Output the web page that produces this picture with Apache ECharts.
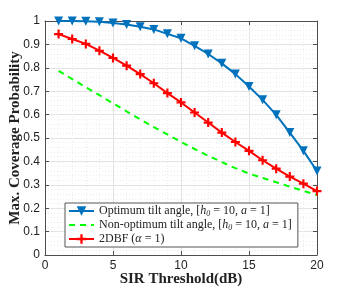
<!DOCTYPE html>
<html><head><meta charset="utf-8">
<script src="https://cdn.jsdelivr.net/npm/echarts@6/dist/echarts.min.js"></script>
<style>html,body{margin:0;padding:0;background:#fff}#c{width:350px;height:288px}</style>
</head><body><div id="c"></div>
<script>
const sirThreshold = [1,2,3,4,5,6,7,8,9,10,11,12,13,14,15,16,17,18,19,20];
const optimumTilt = [1.0,1.0,0.999,0.997,0.991,0.985,0.975,0.964,0.945,0.926,0.894,0.859,0.819,0.773,0.72,0.663,0.599,0.523,0.445,0.359];
const nonOptimumTilt = [0.787,0.752,0.717,0.683,0.648,0.614,0.58,0.547,0.515,0.483,0.453,0.424,0.397,0.371,0.348,0.329,0.311,0.292,0.274,0.256];
const twoDBF = [0.944,0.923,0.902,0.873,0.842,0.809,0.773,0.734,0.692,0.652,0.609,0.566,0.523,0.483,0.445,0.405,0.369,0.335,0.305,0.273];
const xTicks = [0,5,10,15,20];
const yTicks = [0,0.1,0.2,0.3,0.4,0.5,0.6,0.7,0.8,0.9,1];

const serif = '"Liberation Serif","DejaVu Serif",serif';
const sans = '"Liberation Sans",Arial,sans-serif';
const pair = a => sirThreshold.map((x,i)=>[x,a[i]]);
const plusPath = 'path://M3.8,0H6.2V3.8H10V6.2H6.2V10H3.8V6.2H0V3.8H3.8Z';

const chart = echarts.init(document.getElementById('c'));
const axisCol = '#4d4d4d';
const baseX = {
  type:'value', min:0, max:20, interval:5,
  axisLine:{show:true,onZero:false,lineStyle:{color:axisCol,width:1}},
  axisTick:{show:true,inside:true,length:4,lineStyle:{color:axisCol}},
  minorTick:{show:true,splitNumber:5,length:0},
  splitLine:{show:false}, minorSplitLine:{show:false}
};
const baseY = {
  type:'value', min:0, max:1, interval:0.1,
  axisLine:{show:true,onZero:false,lineStyle:{color:axisCol,width:1}},
  axisTick:{show:true,inside:true,length:4,lineStyle:{color:axisCol}},
  minorTick:{show:true,splitNumber:5,length:0},
  splitLine:{show:false}, minorSplitLine:{show:false}
};
const richLegend = {
  i:{fontFamily:serif,fontStyle:'italic',fontSize:12,color:'#222'},
  s:{fontFamily:serif,fontStyle:'italic',fontSize:8,color:'#222',verticalAlign:'bottom',padding:[6,0,0,0]},
  n:{fontFamily:serif,fontSize:12,color:'#222'}
};
chart.setOption({
  animation:false,
  grid:{left:45,right:33,top:21,bottom:33,containLabel:false,outerBoundsMode:'none'},
  legend:{
    left:65, top:203, orient:'vertical',
    backgroundColor:'#fff', borderColor:'#555', borderWidth:1, borderRadius:0,
    padding:[2,6,2,3], itemGap:1, itemWidth:25, itemHeight:12,
    textStyle:{fontFamily:serif,fontSize:12,color:'#222',rich:richLegend},
    formatter:function(name){
      if(name==='opt') return '{n|Optimum tilt angle, [}{i|h}{s|0}{n| = 10, }{i|a}{n| = 1]}';
      if(name==='non') return '{n|Non-optimum tilt angle, [}{i|h}{s|0}{n| = 10, }{i|a}{n| = 1]}';
      return '{n|2DBF (}{i|α}{n| = 1)}';
    },
    data:['opt',{name:'non',itemStyle:{opacity:0}},'dbf']
  },
  xAxis:[
    Object.assign({}, baseX, {
      name:'SIR Threshold(dB)', nameLocation:'middle', nameGap:17, nameMoveOverlap:false,
      nameTextStyle:{fontFamily:serif,fontWeight:'bold',fontSize:15,color:'#222'},
      axisLabel:{fontFamily:sans,fontSize:12,color:'#222',margin:5},
      splitLine:{show:true,lineStyle:{color:'#e3e3e3',width:1}},
      minorSplitLine:{show:true,lineStyle:{color:'#ececec',type:[1,2],width:1}}
    }),
    Object.assign({}, baseX, {position:'top', axisLabel:{show:false}})
  ],
  yAxis:[
    Object.assign({}, baseY, {
      name:'Max. Coverage Probability', nameLocation:'middle', nameGap:22, nameMoveOverlap:false,
      nameTextStyle:{fontFamily:serif,fontWeight:'bold',fontSize:15,color:'#222'},
      axisLabel:{fontFamily:sans,fontSize:12,color:'#222',margin:5,formatter:v=>String(+v.toFixed(1))},
      splitLine:{show:true,lineStyle:{color:'#e3e3e3',width:1}},
      minorSplitLine:{show:true,lineStyle:{color:'#ececec',type:[1,2],width:1}}
    }),
    Object.assign({}, baseY, {position:'right', axisLabel:{show:false}})
  ],
  series:[
    {name:'opt', type:'line', data:pair(optimumTilt), color:'#0072BD',
     lineStyle:{width:2,color:'#0072BD'}, symbol:'triangle', symbolRotate:180, symbolSize:9,
     itemStyle:{color:'#0072BD'}, z:3},
    {name:'non', type:'line', data:pair(nonOptimumTilt), color:'#00FF00',
     lineStyle:{width:2,color:'#00FF00',type:[6,5]}, symbol:'none', z:2},
    {name:'dbf', type:'line', data:pair(twoDBF), color:'#FF0000',
     lineStyle:{width:2,color:'#FF0000'}, symbol:plusPath, symbolSize:9,
     itemStyle:{color:'#FF0000'}, z:4}
  ]
});
</script></body></html>
